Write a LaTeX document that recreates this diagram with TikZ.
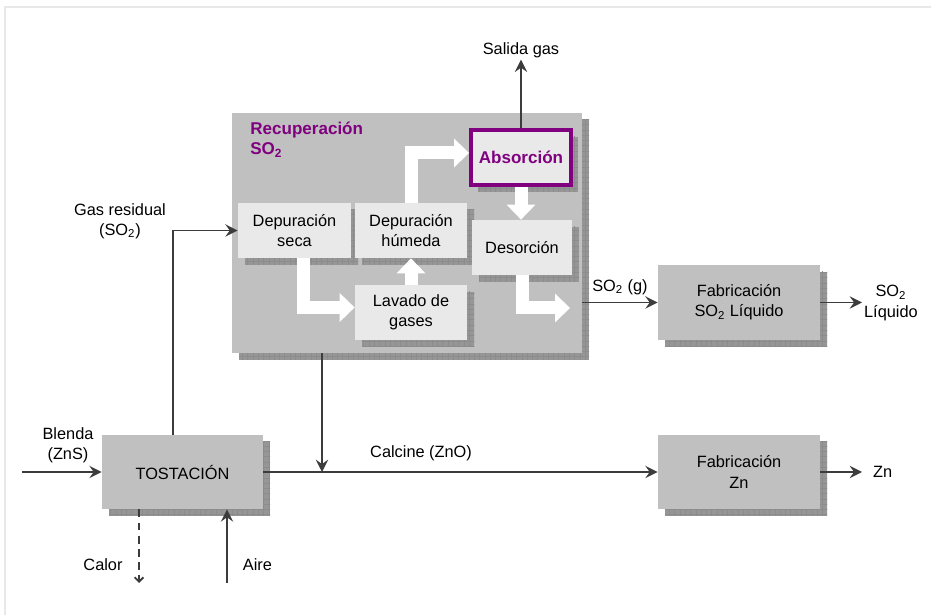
\documentclass[tikz,border=0pt]{standalone}
\usepackage{fontspec}
\setmainfont{Liberation Sans}
\usetikzlibrary{arrows.meta,shadows,patterns}

\definecolor{boxgray}{RGB}{192,192,192}
\definecolor{innergray}{RGB}{233,233,233}
\definecolor{shadegray}{RGB}{150,150,150}
\definecolor{linegray}{RGB}{60,60,60}
\definecolor{recpurple}{RGB}{128,0,128}
\definecolor{framegray}{RGB}{232,232,232}

\newcommand{\labelsize}{\fontsize{9.3pt}{11.4pt}\selectfont}
\newcommand{\titlesize}{\fontsize{9.7pt}{11.4pt}\selectfont\bfseries}

\tikzset{
  shade box/.style={
    general shadow={shadow xshift=0.14cm, shadow yshift=-0.14cm, fill=shadegray},
    general shadow={shadow xshift=0.14cm, shadow yshift=-0.14cm, pattern=grid, pattern color=black!45}},
  unit/.style={shade box, fill=boxgray, align=center, inner sep=0pt},
  stage/.style={shade box, fill=innergray, align=center, inner sep=0pt},
  flow/.style={draw=linegray, line width=1.1pt, -{Stealth[length=7pt,width=7pt,inset=2.5pt]}},
  flowdash/.style={draw=linegray, line width=1.1pt, dash pattern=on 4.5pt off 3pt, -{Straight Barb[length=2.5pt,width=5pt]}},
  bigflow/.style={draw=white, line width=0.26cm, -{Triangle[length=0.3cm,width=0.56cm]}},
  lbl/.style={align=center, inner sep=1pt}
}

\begin{document}
\begin{tikzpicture}[font=\labelsize]
    \useasboundingbox (0,0) rectangle (18.62,12.3);
    \draw[framegray, line width=1.2pt] (0.1,0) -- (0.1,12.16) -- (18.62,12.16);

    % Recuperacion SO2 %
    \node[unit, minimum width=7cm, minimum height=4.8cm] (recup) at (8.14,7.64) {};
    \node[anchor=north west, inner sep=0pt, align=left, text=recpurple, font=\titlesize] (rectitle) at (5.0,9.86) {Recuperación\\SO\textsubscript{2}};
    \node[stage, minimum width=2.26cm, minimum height=1.1cm] (seca) at (5.89,7.69) {Depuración\\seca};
    \node[stage, minimum width=2.24cm, minimum height=1.1cm] (humeda) at (8.22,7.69) {Depuración\\húmeda};
    \node[stage, minimum width=2.24cm, minimum height=1.1cm] (lavado) at (8.22,6.05) {Lavado de\\gases};
    \node[stage, minimum width=2.0cm, minimum height=1.1cm] (desorcion) at (10.44,7.35) {Desorción};
    \node[stage, draw=recpurple, line width=2.2pt, minimum width=2.0cm, minimum height=1.1cm, text=recpurple, font=\titlesize] (absorcion) at (10.42,9.15) {Absorción};

    \draw[bigflow] ([xshift=0.17cm]seca.south) |- ([yshift=0.1cm]lavado.west);
    \draw[bigflow] (lavado.north) -- (humeda.south);
    \draw[bigflow] (humeda.north) |- ([yshift=0.09cm]absorcion.west);
    \draw[bigflow] (absorcion.south) -- (absorcion.south |- desorcion.north);
    \coordinate (so2out) at (11.4,6.14);
    \draw[bigflow] (desorcion.south) |- (so2out);

    % Process units %
    \node[unit, minimum width=3.22cm, minimum height=1.48cm] (tost) at (3.65,2.86) {TOSTACIÓN};
    \node[unit, minimum width=3.24cm, minimum height=1.5cm] (fabso2) at (14.78,6.25) {Fabricación\\SO\textsubscript{2} Líquido};
    \node[unit, minimum width=3.24cm, minimum height=1.48cm] (fabzn) at (14.78,2.86) {Fabricación\\Zn};

    % Labels %
    \node[lbl] (salida) at (10.42,11.3) {Salida gas};
    \node[lbl, anchor=west] (so2liq) at (17.24,6.24) {SO\textsubscript{2}\\Líquido};
    \node[lbl, anchor=west] (zn) at (17.42,2.86) {Zn};
    \node[lbl] (gasres) at (2.4,7.88) {Gas residual\\(SO\textsubscript{2})};
    \node[lbl] (blenda) at (1.36,3.39) {Blenda\\(ZnS)};
    \node[lbl] (calor) at (2.06,1.0) {Calor};
    \node[lbl] (aire) at (5.15,1.0) {Aire};

    % Streams %
    \draw[flow] (absorcion.north) -- (absorcion.north |- salida.south);
    \draw[flow] (recup.east |- fabso2.west) -- node[lbl, above=3pt] (so2g) {SO\textsubscript{2} (g)} (fabso2.west);
    \draw[flow] (fabso2.east) -- (fabso2.east -| so2liq.west);
    \draw[flow] (fabzn.east) -- ([xshift=-0.18cm]zn.west);
    \draw[flow] (tost.east) -- node[lbl, pos=0.4, above=5pt] (calcine) {Calcine (ZnO)} (fabzn.west);
    \coordinate (junction) at (6.44,2.86);
    \draw[flow] (recup.south -| junction) -- (junction);
    \coordinate (blendain) at (0.44,2.86);
    \draw[flow] (blendain) -- (tost.west);
    \draw[flow] ([xshift=-0.19cm]tost.north) |- (seca.west);
    \coordinate (calorout) at (2.78,0.64);
    \draw[flowdash] (tost.south -| calorout) -- (calorout);
    \coordinate (airein) at (4.54,0.64);
    \draw[flow] (airein) -- (airein |- tost.south);
\end{tikzpicture}
\end{document}
